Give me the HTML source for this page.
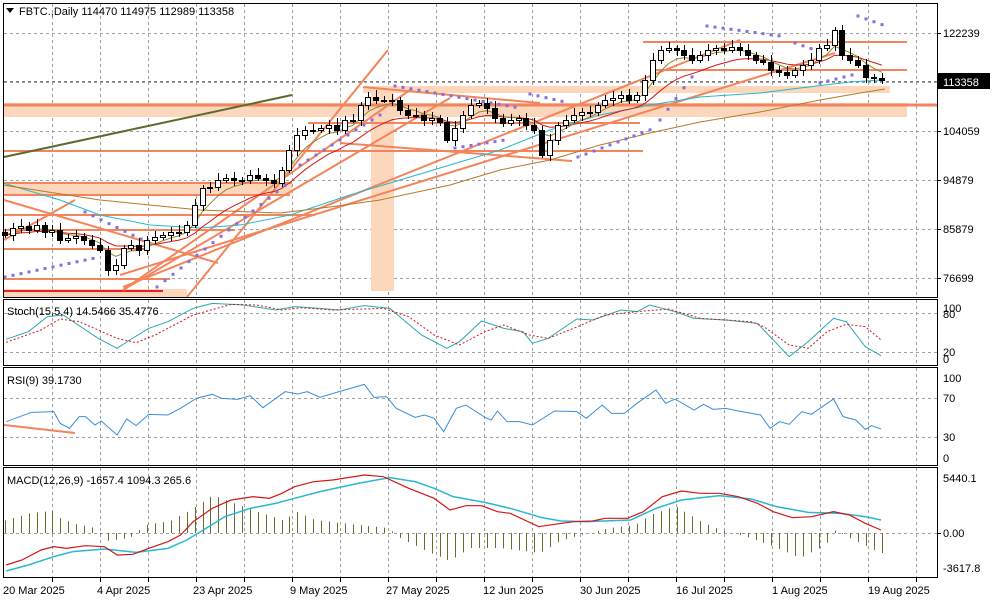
<!DOCTYPE html>
<html><head><meta charset="utf-8">
<style>
html,body{margin:0;padding:0;background:#fff;}
body{width:1000px;height:600px;overflow:hidden;position:relative;font-family:"Liberation Sans",sans-serif;}
svg{position:absolute;left:0;top:0;}
text{font-family:"Liberation Sans",sans-serif;font-size:11px;fill:#000;}
</style></head><body>
<svg id="s" width="1000" height="600" viewBox="0 0 1000 600" xmlns="http://www.w3.org/2000/svg">
<rect width="1000" height="600" fill="#fff"/>
<g id="grid" stroke="#a0a0a0" stroke-dasharray="3,3" stroke-width="1"></g>
<g id="draw"></g>
<g id="ind"></g>
<g id="cand"></g>
<g fill="none" stroke="#000" stroke-width="1">
<rect x="3.5" y="3.5" width="934" height="294"/>
<rect x="3.5" y="299.5" width="934" height="66"/>
<rect x="3.5" y="367.5" width="934" height="98"/>
<rect x="3.5" y="467.5" width="934" height="110"/>
</g>
<g id="ticks" stroke="#000"></g>
<path d="M6 8 L14 8 L10 13 Z" fill="#000"/>
<text x="19" y="15">FBTC.,Daily  114470 114975 112989 113358</text>
<text x="7" y="315">Stoch(15,5,4) 14.5466 35.4776</text>
<text x="7" y="384">RSI(9) 39.1730</text>
<text x="7" y="484">MACD(12,26,9) -1657.4 1094.3 265.6</text>
<text x="943" y="37">122239</text>
<rect x="937" y="73" width="53" height="16" fill="#000"/>
<text x="943" y="86" style="fill:#fff">113358</text>
<text x="943" y="135">104059</text>
<text x="943" y="184">94879</text>
<text x="943" y="233">85879</text>
<text x="943" y="282">76699</text>
<text x="943" y="312">100</text>
<text x="943" y="318">80</text>
<text x="943" y="356">20</text>
<text x="943" y="363">0</text>
<text x="943" y="382">100</text>
<text x="943" y="402">70</text>
<text x="943" y="441">30</text>
<text x="943" y="462">0</text>
<text x="943" y="482">5440.1</text>
<text x="943" y="537">0.00</text>
<text x="943" y="572">-3617.8</text>
<text x="3" y="594">20 Mar 2025</text>
<text x="97" y="594">4 Apr 2025</text>
<text x="193" y="594">23 Apr 2025</text>
<text x="290" y="594">9 May 2025</text>
<text x="386" y="594">27 May 2025</text>
<text x="483" y="594">12 Jun 2025</text>
<text x="580" y="594">30 Jun 2025</text>
<text x="676" y="594">16 Jul 2025</text>
<text x="772" y="594">1 Aug 2025</text>
<text x="868" y="594">19 Aug 2025</text>
</svg>
<script>
var NS="http://www.w3.org/2000/svg";
function el(p,t,a){var e=document.createElementNS(NS,t);for(var k in a)e.setAttribute(k,a[k]);document.getElementById(p).appendChild(e);return e;}
function pl(p,pts,a){a.points=pts.map(function(q){return q[0]+","+q[1]}).join(" ");a.fill="none";return el(p,"polyline",a);}
var vx=[52,100,148,196,244,292,340,388,436,484,532,580,628,676,724,772,820,868,916];
vx.forEach(function(x){[[4,297],[300,365],[368,465],[468,577]].forEach(function(r){el("grid","line",{x1:x+.5,y1:r[0],x2:x+.5,y2:r[1]});});});
[33,82,131,180,229,278,313,352,398,437,533].forEach(function(y){el("grid","line",{x1:4,y1:y+.5,x2:937,y2:y+.5});});
[33,81,131,180,229,278,533].forEach(function(y){el("ticks","line",{x1:937,y1:y+.5,x2:941,y2:y+.5});});
vx.forEach(function(x){el("ticks","line",{x1:x+.5,y1:578,x2:x+.5,y2:582});});
var O="#f4845c",B="#fdd7bb";
function band(x,y,w,h){el("draw","rect",{x:x,y:y,width:w,height:h,fill:B});}
function ln(x1,y1,x2,y2,c,w){el("draw","line",{x1:x1,y1:y1,x2:x2,y2:y2,stroke:c||O,"stroke-width":w||2});}
band(4,103,903,14);band(363,86,527,7);band(371,93,23,198);band(4,182,288,12);band(4,289,183,8);
ln(4,105,937,105,O,3);ln(4,151,643,151);ln(4,183,292,183);ln(4,195,290,195);ln(4,215,315,215);ln(4,230,235,230);
ln(4,249,145,249);ln(4,279,170,279);ln(4,291,163,291,"#e8202a",2);ln(308,123,640,123);ln(643,42,907,42);ln(651,70,907,70);
ln(4,157,292,95,"#5d6a2e",2);
ln(187,297,388,50);ln(123,290,410,90);ln(123,290,450,98);ln(123,287,740,40);ln(120,275,835,53);
ln(4,200,218,263);ln(4,240,75,200);ln(340,143,572,161);ln(363,87,540,103);ln(4,425,75,433);
var C=[235,228,226,230,225,232,230,240,238,236,240,245,250,270,265,248,245,250,240,237,235,232,232,225,205,188,187,180,178,180,180,175,178,180,183,170,150,135,130,130,128,125,130,120,120,105,97,100,100,100,110,115,115,120,118,122,140,128,115,105,103,108,118,123,120,118,125,130,155,140,125,120,115,112,112,105,100,98,95,100,95,80,60,50,48,50,55,60,55,50,48,50,47,50,55,60,62,70,72,75,70,65,60,48,45,30,55,60,65,77,78,80];
function X(i){return 5+7.9*i;}
var e5=C[0],e12=C[0],P5=[],P12=[];
C.forEach(function(c,i){e5=e5+(c-e5)*2/6;e12=e12+(c-e12)*2/14;P5.push([X(i),e5]);P12.push([X(i),e12]);});
pl("ind",[[3,183],[60,200],[100,215],[150,225],[200,228],[240,225],[290,215],[350,195],[400,180],[450,165],[500,150],[550,130],[600,115],[650,105],[700,97],[760,93],[800,88],[850,82],[880,80]],{stroke:"#28b8c8","stroke-width":1});
pl("ind",[[3,185],[100,200],[200,210],[280,213],[330,207],[380,200],[450,185],[500,170],[550,160],[600,145],[650,133],[700,122],[760,112],[820,100],[860,93],[885,89]],{stroke:"#b8782a","stroke-width":1});
pl("ind",P12,{stroke:"#d01818","stroke-width":1});
pl("ind",P5,{stroke:"#8a8a2a","stroke-width":1});
[[5,95,277,258],[85,147,212,242],[157,292,287,180],[300,380,165,115],[395,520,86,108],[455,505,148,140],[530,565,94,102],[578,655,157,128],[660,692,120,77],[707,780,26,36],[795,815,43,50],[820,852,83,75],[858,883,16,25]].forEach(function(s){
 for(var x=s[0];x<=s[1]+0.1;x+=8){var y=s[2]+(s[3]-s[2])*(s[1]==s[0]?0:(x-s[0])/(s[1]-s[0]));el("ind","rect",{x:x-1.5,y:y-1.5,width:3,height:3,fill:"#8070e0"});}});
var prev=232;
C.forEach(function(c,i){var o=prev,x=Math.round(X(i));var t=Math.min(o,c),b=Math.max(o,c);
 var wt=t-3-(i*7%5),wb=b+3+(i*3%4);
 el("cand","line",{x1:x+.5,y1:wt,x2:x+.5,y2:wb,stroke:"#000"});
 if(b-t<1)b=t+1;
 el("cand","rect",{x:x-2.5,y:t+.5,width:5,height:b-t,fill:(c<o?"#fff":"#000"),stroke:"#000","stroke-width":1});
 prev=c;});
function Z(a){return a.map(function(q){return [q[0]*0.634+3,295+q[1]/3];});}
pl("ind",Z([[5,133],[40,110],[70,65],[95,60],[150,130],[180,160],[200,135],[230,100],[260,80],[300,40],[330,25],[380,30],[430,45],[460,35],[500,40],[530,45],[570,32],[610,40],[660,120],[700,160],[720,140],[755,78],[790,100],[820,110],[835,145],[860,130],[905,72],[930,75],[975,45],[1000,50],[1020,30],[1060,50],[1090,70],[1140,75],[1190,85],[1240,185],[1270,140],[1310,70],[1330,80],[1360,155],[1385,182]]),{stroke:"#2aa8b0","stroke-width":1});
pl("ind",Z([[5,142],[60,105],[90,72],[120,80],[180,130],[210,143],[240,120],[300,60],[360,28],[400,30],[440,45],[470,38],[520,45],[600,40],[640,65],[680,120],[720,150],[760,110],[790,90],[830,120],[860,130],[900,100],[950,60],[1000,50],[1050,42],[1100,70],[1180,80],[1200,95],[1240,150],[1270,160],[1300,110],[1330,88],[1360,95],[1385,135]]),{stroke:"#d01818","stroke-width":1,"stroke-dasharray":"2,2"});
pl("ind",Z([[5,380],[45,352],[80,350],[90,385],[105,400],[120,365],[130,365],[145,390],[155,378],[180,420],[195,372],[210,392],[230,358],[260,360],[280,340],[305,310],[330,298],[345,310],[370,313],[390,302],[410,338],[445,290],[465,297],[480,290],[500,307],[530,290],[570,268],[585,307],[605,305],[620,340],[650,367],[665,360],[680,370],[695,410],[715,340],[730,330],[760,367],[770,375],[780,348],[795,380],[815,380],[835,390],[870,348],[905,350],[920,370],[945,330],[960,355],[980,355],[1000,325],[1030,285],[1045,325],[1060,312],[1090,345],[1105,328],[1120,343],[1140,340],[1160,348],[1195,360],[1210,400],[1225,380],[1240,388],[1260,350],[1275,358],[1310,312],[1325,365],[1345,375],[1360,403],[1370,392],[1385,402]]),{stroke:"#3a8fd8","stroke-width":1});
var H=[[3,12],[30,20],[52,22],[60,15],[75,9],[95,5],[105,-8],[130,-5],[145,8],[170,12],[190,23],[213,38],[233,30],[255,22],[285,12],[295,22],[315,13],[340,10],[388,5],[400,-5],[430,-20],[450,-28],[470,-15],[500,-15],[540,-20],[560,-8],[580,-2],[610,5],[635,8],[650,18],[675,27],[700,12],[720,3],[740,-2],[770,-12],[800,-25],[825,-12],[835,3],[850,-5],[880,-20]];
function hv(x){for(var k=0;k<H.length-1;k++){if(x<=H[k+1][0]){var a=H[k],b=H[k+1];return a[1]+(b[1]-a[1])*(x-a[0])/(b[0]-a[0]);}}return H[H.length-1][1];}
for(var i=0;i<C.length;i++){var x=Math.round(X(i))+.5,h=hv(X(i));el("ind","line",{x1:x,y1:533,x2:x,y2:533-h,stroke:"#6b6b2a","stroke-width":1});}
pl("ind",Z([[5,828],[40,810],[80,785],[110,770],[160,762],[210,772],[260,760],[290,735],[320,700],[350,665],[390,640],[430,625],[460,610],[500,590],[560,565],[610,548],[650,560],[680,580],[710,605],[760,622],[800,640],[850,668],[880,678],[920,680],[990,675],[1030,640],[1070,615],[1130,602],[1180,612],[1220,635],[1270,652],[1320,655],[1360,665],[1385,675]]),{stroke:"#28b8d0","stroke-width":1.5});
pl("ind",Z([[5,810],[30,795],[60,765],[80,755],[100,760],[130,752],[160,755],[180,780],[205,778],[230,760],[260,740],[280,720],[300,680],[330,640],[360,615],[395,605],[420,610],[440,595],[460,575],[490,560],[520,555],[570,540],[600,545],[640,580],[680,610],[705,645],[730,632],[755,632],[780,650],[800,655],[845,695],[870,688],[900,680],[930,678],[950,670],[985,670],[1010,650],[1040,605],[1070,588],[1100,595],[1130,595],[1160,605],[1190,625],[1215,650],[1245,668],[1275,665],[1310,650],[1335,660],[1360,685],[1385,705]]),{stroke:"#d01818","stroke-width":1.2});
el("grid","line",{x1:4,y1:81.5,x2:937,y2:81.5,stroke:"#808080"});
</script>
</body></html>
